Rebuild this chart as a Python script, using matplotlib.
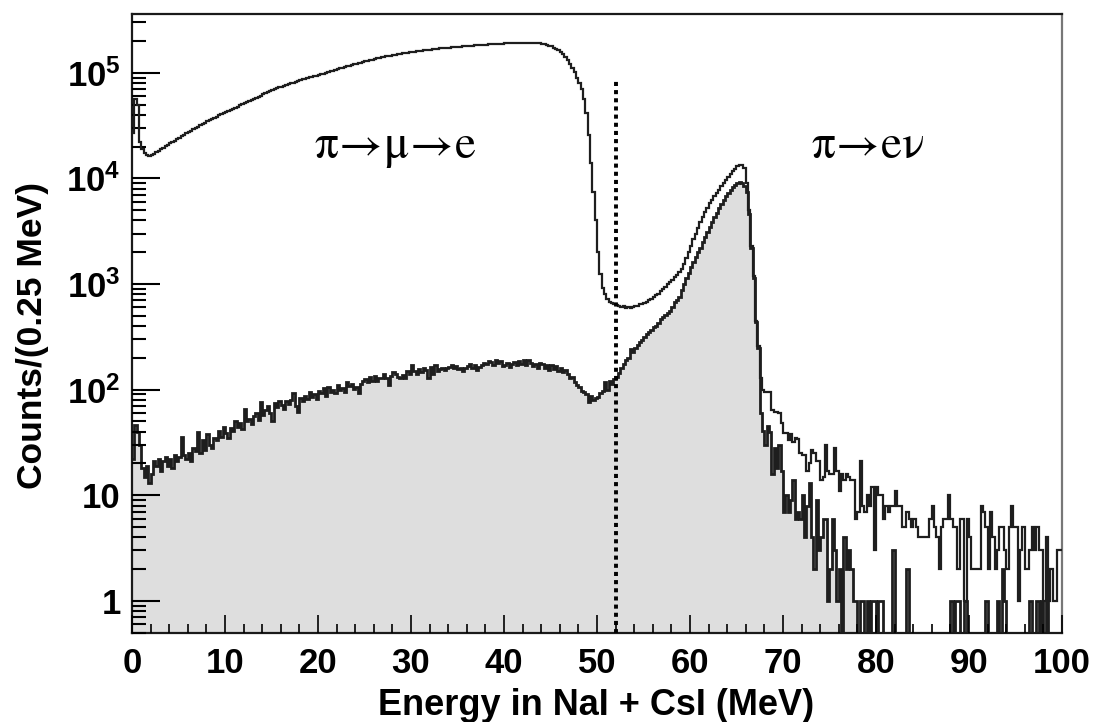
import numpy as np
import matplotlib.pyplot as plt
from matplotlib.ticker import MultipleLocator, NullFormatter, LogLocator

# counts per 0.25 MeV bin, 0 - 100 MeV (400 bins)
bin_width = 0.25

total_counts = [
    27000, 56000, 50000, 22000, 19000, 17500, 16500, 16200, 16600, 17100, 17600, 18200, 18800, 19400, 20100, 20700,
    21400, 22100, 22800, 23500, 24300, 25100, 25800, 26700, 27500, 28300, 29200, 30000, 30900, 31800, 32800, 33700,
    34700, 35600, 36600, 37500, 38500, 39500, 40600, 41600, 42700, 43700, 44700, 45800, 46800, 47900, 49000, 50100,
    51300, 52500, 53700, 54900, 56200, 57700, 59200, 60800, 62400, 63900, 65400, 66900, 68400, 69800, 71300, 72700,
    74100, 75400, 76700, 78100, 79400, 80800, 82200, 83700, 85100, 86400, 87600, 88900, 90200, 91500, 92900, 94200,
    95500, 96900, 98300, 99800, 101200, 102900, 104700, 106500, 108400, 110000, 111600, 113200, 114800, 116500, 118200, 119900,
    121600, 123200, 124900, 126500, 128200, 129900, 131500, 133200, 134900, 136500, 138100, 139700, 141300, 142800, 144200, 145700,
    147200, 148700, 150200, 151600, 153100, 154300, 155400, 156600, 157800, 158900, 160000, 161100, 162200, 163200, 164100, 165000,
    166000, 167000, 167900, 168900, 169800, 170600, 171400, 172200, 173000, 173800, 174600, 175400, 176200, 177000, 177800, 178700,
    179500, 180200, 181000, 181700, 182400, 183000, 183700, 184300, 184900, 185600, 186200, 186900, 187500, 188000, 188600, 189100,
    189700, 190000, 190400, 190700, 191000, 191200, 191500, 191700, 191900, 192000, 192000, 192000, 191900, 191300, 190500, 189500,
    188400, 186500, 184000, 181000, 177800, 173000, 167500, 163000, 158000, 150000, 141000, 132000, 122000, 112000, 101000, 90000,
    80000, 70000, 56000, 42000, 26000, 14000, 7500, 4000, 2000, 1250, 920, 800, 720, 680, 660, 640,
    630, 615, 600, 620, 595, 610, 590, 605, 615, 625, 640, 650, 665, 680, 700, 725,
    750, 780, 810, 850, 890, 940, 990, 1040, 1100, 1160, 1230, 1310, 1400, 1550, 1750, 2000,
    2300, 2650, 3000, 3400, 3850, 4300, 4800, 5300, 5800, 6250, 6750, 7250, 7800, 8400, 9000, 9600,
    10300, 11000, 11700, 12400, 13000, 13400, 13300, 12600, 9000, 5000, 2300, 1200, 450, 260, 130, 100,
    95, 95, 95, 64, 62, 62, 60, 48, 39, 39, 33, 38, 32, 35, 34, 25,
    24, 24, 17, 20, 27, 25, 21, 21, 14, 15, 30, 17, 16, 16, 28, 17,
    11, 16, 14, 16, 15, 14, 14, 6, 7, 21, 8, 7, 10, 8, 12, 3,
    12, 10, 10, 6, 8, 7, 8, 8, 11, 8, 8, 5, 5, 7, 6, 5,
    6, 5, 4, 4, 4, 4, 4, 6, 8, 5, 4, 2, 5, 6, 6, 10,
    6, 5, 5, 2, 6, 6, 1, 6, 4, 2, 2, 2, 2, 8, 7, 5,
    2, 7, 4, 2, 3, 5, 5, 3, 2, 5, 8, 5, 5, 1, 3, 5,
    2, 2, 3, 5, 3, 5, 3, 3, 1, 4, 1, 2, 1, 1, 3, 3,
]

signal_counts = [
    22, 46, 40, 30, 18, 15, 19, 13, 16, 21, 19, 22, 17, 21, 23, 19,
    22, 18, 24, 21, 23, 36, 24, 22, 25, 21, 28, 26, 40, 25, 33, 27,
    38, 30, 28, 35, 33, 41, 36, 44, 39, 35, 43, 41, 50, 44, 48, 42,
    66, 50, 53, 47, 56, 60, 52, 76, 58, 64, 70, 60, 50, 74, 68, 78,
    72, 66, 78, 73, 80, 92, 70, 62, 84, 78, 88, 81, 96, 86, 90, 82,
    98, 92, 104, 88, 107, 96, 100, 92, 110, 100, 104, 96, 118, 108, 112, 102,
    106, 92, 114, 120, 125, 118, 132, 122, 135, 120, 128, 130, 142, 128, 110, 136,
    147, 140, 132, 128, 138, 130, 150, 142, 170, 150, 140, 156, 148, 160, 152, 130,
    165, 140, 170, 150, 158, 162, 155, 160, 165, 172, 160, 168, 158, 162, 150, 160,
    168, 175, 162, 170, 154, 165, 172, 180, 175, 188, 182, 170, 191, 178, 185, 168,
    172, 180, 165, 175, 182, 170, 188, 176, 190, 172, 192, 178, 168, 175, 160, 178,
    175, 162, 170, 155, 170, 158, 168, 150, 160, 148, 154, 140, 128, 132, 118, 110,
    106, 98, 95, 90, 76, 88, 80, 84, 86, 92, 98, 118, 100, 120, 112, 125,
    133, 145, 160, 175, 190, 200, 240, 225, 250, 265, 280, 295, 318, 335, 350, 370,
    390, 400, 430, 470, 490, 510, 530, 560, 600, 680, 710, 760, 880, 1000, 1150, 1270,
    1450, 1600, 1800, 2000, 2200, 2500, 2800, 3100, 3500, 3900, 4300, 4700, 5200, 5700, 6200, 6800,
    7300, 7800, 8300, 8700, 9000, 9300, 9100, 8500, 7500, 4600, 2200, 1150, 440, 250, 60, 41,
    30, 45, 40, 16, 28, 18, 30, 17, 7, 10, 7, 9, 14, 6, 7, 6,
    10, 4, 8, 13, 4, 2, 9, 3, 4, 6, 6, 1, 2, 6, 3, 1,
    2, 0, 4, 2, 3, 2, 1, 1, 0, 1, 1, 0, 1, 0, 1, 1,
    0, 1, 1, 0, 0, 0, 0, 3, 0, 0, 0, 0, 0, 2, 0, 0,
    0, 0, 0, 0, 0, 0, 0, 0, 0, 0, 0, 0, 0, 0, 0, 0,
    1, 0, 1, 1, 0, 0, 1, 0, 0, 0, 0, 0, 0, 0, 0, 1,
    0, 0, 0, 0, 1, 0, 2, 1, 0, 0, 0, 0, 0, 0, 0, 0,
    0, 0, 1, 0, 0, 1, 0, 1, 0, 1, 0, 0, 0, 0, 0, 0,
]

fill_end = 78.0      # shaded histogram stops here (MeV)
cut_energy = 52.0    # dotted cut line
cut_top = 9.0e4

x_ticks = [0, 10, 20, 30, 40, 50, 60, 70, 80, 90, 100]
y_ticks = [1, 10, 100, 1000, 10000, 100000]
y_tick_labels = ['1', '10', r'$\mathbf{10^{2}}$', r'$\mathbf{10^{3}}$',
                 r'$\mathbf{10^{4}}$', r'$\mathbf{10^{5}}$']

plt.rcParams['font.family'] = ['Liberation Sans', 'DejaVu Sans']
plt.rcParams['mathtext.fontset'] = 'custom'
plt.rcParams['mathtext.rm'] = 'Liberation Sans:bold'
plt.rcParams['mathtext.bf'] = 'Liberation Sans:bold'
plt.rcParams['mathtext.it'] = 'Liberation Sans:bold'

edges = np.arange(len(total_counts) + 1) * bin_width
total = np.array(total_counts, dtype=float)
signal = np.array(signal_counts, dtype=float)
# empty bins drop to the bottom of the log axis
total_draw = np.where(total > 0, total, 1e-3)
signal_draw = np.where(signal > 0, signal, 1e-3)
n_fill = int(round(fill_end / bin_width))

fig = plt.figure(figsize=(10.97, 7.22), dpi=100)
ax = fig.add_axes([0.1203, 0.1237, 0.8478, 0.8569])

ax.stairs(signal_draw[:n_fill], edges[:n_fill + 1], fill=True, baseline=1e-3,
          color='#dedede', zorder=1)
ax.stairs(signal_draw, edges, baseline=None, color='#1e1e1e', lw=2.0, zorder=2)
ax.stairs(total_draw, edges, baseline=None, color='#1e1e1e', lw=1.6, zorder=3)
ax.vlines(cut_energy, 1e-3, cut_top, colors='black', lw=2.8,
          linestyles=(0, (1.05, 1.05)), zorder=4)

ax.set_yscale('log')
ax.set_xlim(0, 100)
ax.set_ylim(0.5, 3.6e5)
ax.set_axisbelow(False)

ax.set_xticks(x_ticks)
ax.set_xticklabels([str(t) for t in x_ticks])
ax.xaxis.set_minor_locator(MultipleLocator(2))
ax.set_yticks(y_ticks)
ax.set_yticklabels(y_tick_labels)
ax.yaxis.set_minor_locator(LogLocator(base=10, subs=np.arange(2, 10)))
ax.yaxis.set_minor_formatter(NullFormatter())
for lbl in ax.get_xticklabels() + ax.get_yticklabels():
    lbl.set_fontweight('bold')

ax.tick_params(axis='y', which='major', direction='in', length=20, width=1.5,
               labelsize=25, pad=8, right=False)
ax.tick_params(axis='y', which='minor', direction='in', length=10, width=1.5, right=False)
ax.tick_params(axis='x', which='major', direction='in', length=13, width=1.2,
               labelsize=25, pad=10, top=False)
ax.tick_params(axis='x', which='minor', direction='in', length=6.5, width=1.2, top=False)

for side in ['left', 'bottom', 'top']:
    ax.spines[side].set_linewidth(1.6)
    ax.spines[side].set_color('#1a1a1a')
ax.spines['right'].set_linewidth(1.6)
ax.spines['right'].set_color('#777777')

fig.text(0.5438, 0.0097, 'Energy in NaI + CsI (MeV)', ha='center', va='baseline',
         fontsize=26, fontweight='bold')
fig.text(0.030, 0.536, 'Counts/(0.25 MeV)', rotation=90, ha='center', va='center',
         fontsize=25.5, fontweight='bold')

fig.text(0.360, 0.781, r'$\mathrm{\pi}\!\rightarrow\!\mathrm{\mu}\!\rightarrow\!\mathrm{e}$',
         ha='center', va='baseline', fontsize=34, fontweight='normal',
         math_fontfamily='stix')
fig.text(0.791, 0.781, r'$\mathrm{\pi}\!\rightarrow\!\mathrm{e\nu}$',
         ha='center', va='baseline', fontsize=34, fontweight='normal',
         math_fontfamily='stix')

fig.savefig('out.png', dpi=100)
